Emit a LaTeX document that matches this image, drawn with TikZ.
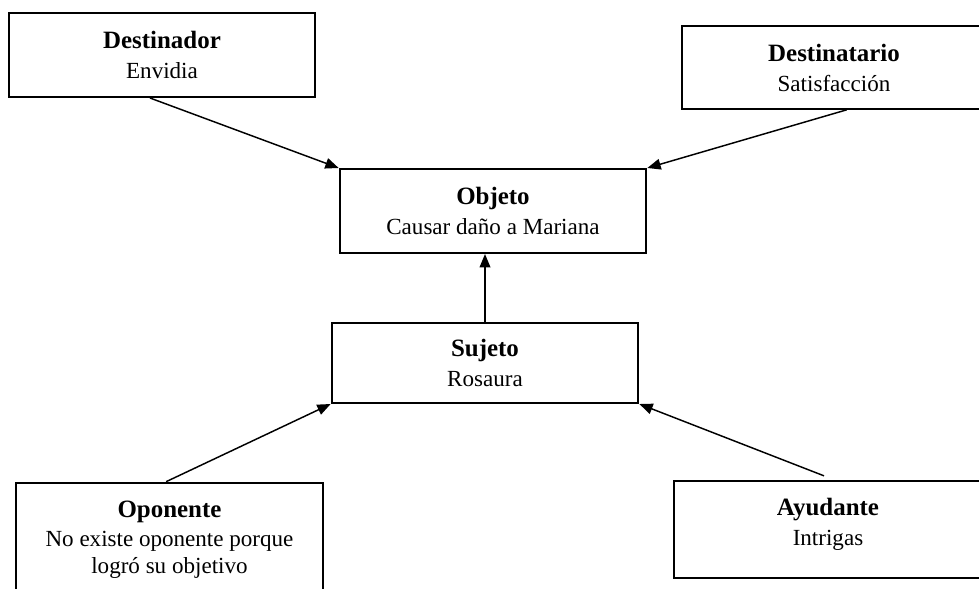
\documentclass[tikz,border=0pt]{standalone}
\usepackage{fontspec}
\setmainfont{Liberation Serif}
\usetikzlibrary{arrows.meta}

\newcommand{\rolname}[1]{{\fontsize{18.7}{22}\selectfont\bfseries #1}}

\begin{document}
\begin{tikzpicture}[x=0.75pt, y=-0.75pt,
  actant/.style={draw, line width=1.5pt, align=center, inner sep=0pt,
    minimum width=230pt, font=\fontsize{17.3}{21.5}\selectfont},
  link/.style={line width=1.1pt, -{Triangle[length=10pt,width=8pt]}}]
\clip (0,0) rectangle (979,589);

\draw (162,55) node (Dest) [actant,minimum height=63pt] {\rolname{Destinador}\\[1pt] Envidia};
\draw (834,67.5) node (Dtario) [actant,minimum width=228pt,minimum height=62pt] {\rolname{Destinatario}\\[1pt] Satisfacción};
\draw (493,211) node (Obj) [actant,minimum height=63pt] {\rolname{Objeto}\\[1pt] Causar daño a Mariana};
\draw (485,363) node (Suj) [actant,minimum height=60pt] {\rolname{Sujeto}\\[1pt] Rosaura};
\draw (169.5,540) node (Opo) [actant,minimum height=86pt] {\rolname{Oponente}\\ No existe oponente porque\\[-1pt] logró su objetivo};
\draw (828,529.5) node (Ayu) [actant,minimum width=231pt,minimum height=73pt] {\rolname{Ayudante}\\[1pt] Intrigas\\[-10pt]};

\draw[link] ([xshift=-9pt]Dest.south) -- (Obj.north west);
\draw[link] ([xshift=9.5pt]Dtario.south) -- (Obj.north east);

\draw[link] (Suj.north) -- (Suj.north |- Obj.south);

\draw[link] ([xshift=-2.5pt]Opo.north) -- (Suj.south west);
\draw[link] ([xshift=-3pt,yshift=3pt]Ayu.north) -- (Suj.south east);

\end{tikzpicture}
\end{document}
